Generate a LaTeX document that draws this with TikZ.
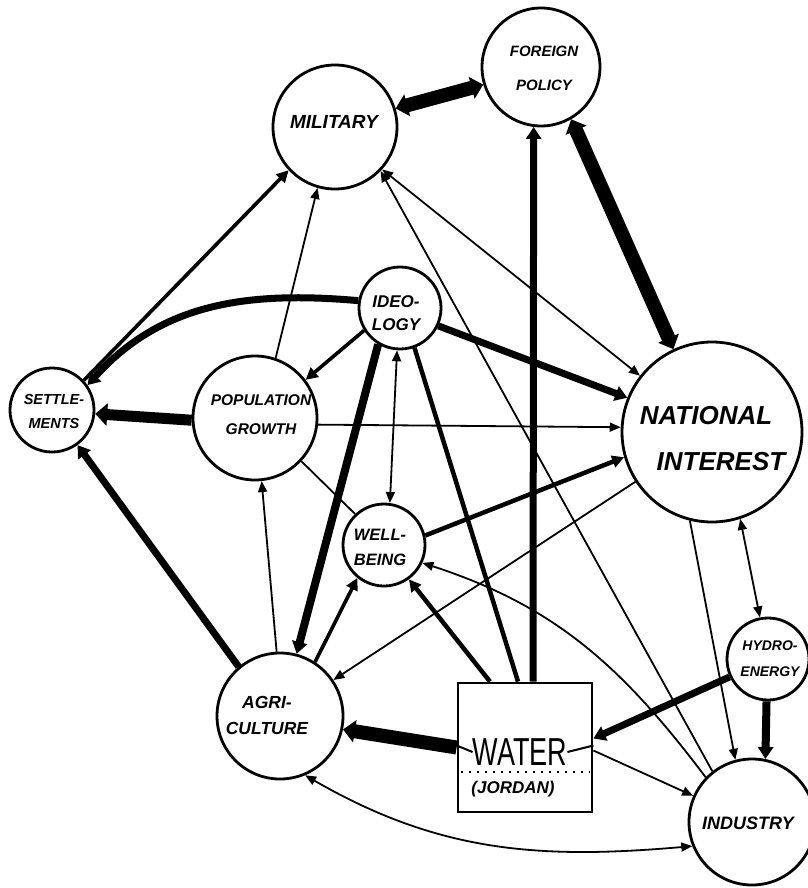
\documentclass[tikz,border=0pt]{standalone}
\usepackage{fontspec}
\setmainfont{Liberation Sans}
\usetikzlibrary{arrows.meta}
\pgfdeclarelayer{background}
\pgfsetlayers{background,main}
\newcommand\hw[2]{\bfseries\itshape\fontsize{#1}{#2}\selectfont}
\begin{document}
\begin{tikzpicture}[x=1pt,y=-1pt,
  circ/.style={circle, draw, line width=2.8pt, fill=white, inner sep=0pt},
  wbox/.style={rectangle, draw, line width=2.8pt, fill=white, inner sep=0pt},
  lbl/.style={align=center, inner sep=0pt},
  eA/.style={line width=1.8pt, >={Triangle[length=11pt,width=9pt]}},
  eB/.style={line width=3.6pt, >={Triangle[length=12pt,width=12pt]}},
  eC/.style={line width=7pt, >={Triangle[length=12pt,width=15pt]}},
  eD/.style={line width=14pt, >={Triangle[length=12pt,width=22pt]}}]
\useasboundingbox (0,0) rectangle (807,888);
\begin{pgfonlayer}{background}
\fill[white] (0,0) rectangle (807,888);
\end{pgfonlayer}

% nodes
\node[circ, minimum size=124pt] (mil) at (335,127) {};
\node[circ, minimum size=118pt] (fp) at (541,67) {};
\node[circ, minimum size=82pt] (ideo) at (400,308) {};
\node[circ, minimum size=84pt] (sett) at (52,410) {};
\node[circ, minimum size=124pt] (pop) at (255,418) {};
\node[circ, minimum size=180pt] (ni) at (712,432) {};
\node[circ, minimum size=82pt] (well) at (384,545) {};
\node[circ, minimum size=126pt] (agri) at (280,716) {};
\node[wbox, minimum width=134pt, minimum height=129pt] (water) at (525,747.5) {};
\node[circ, minimum size=82pt] (hydro) at (768,659) {};
\node[circ, minimum size=126pt] (ind) at (752,822) {};

% labels
\node[lbl, font=\hw{19}{20}] (milt) at (334,122) {MILITARY};
\node[lbl, font=\hw{15}{34}] (fpt) at (544,68) {FOREIGN\\POLICY};
\node[lbl, font=\hw{17}{23}] (ideot) at (396,313) {IDEO-\\LOGY};
\node[lbl, font=\hw{14.5}{24}] (settt) at (54,412) {SETTLE-\\MENTS};
\node[lbl, font=\hw{15.5}{29}] (popt) at (261,415) {POPULATION\\GROWTH};
\node[lbl, font=\hw{26}{28}] (nia) at (706,416) {NATIONAL};
\node[lbl, font=\hw{26}{28}] (nib) at (721,462) {INTEREST};
\node[lbl, font=\hw{16.5}{25}] (wellt) at (380,547) {WELL-\\BEING};
\node[lbl, font=\hw{17.5}{26}] (agrit) at (267,715) {AGRI-\\CULTURE};
\node[lbl, font=\fontsize{30}{30}\selectfont] (watert) at (520,752) {\scalebox{0.9}[1.3]{WATER}};
\node[lbl, font=\hw{17}{18}] (jordt) at (513,789) {(JORDAN)};
\node[lbl, font=\hw{14}{26}] (hydrot) at (770,659) {HYDRO-\\ENERGY};
\node[lbl, font=\hw{18}{20}] (indt) at (748,823) {INDUSTRY};

% inside the water box
\draw[line width=2pt, dash pattern=on 2pt off 6pt]
  ([xshift=4pt,yshift=-24.5pt]water.west) -- ([xshift=-4pt,yshift=-24.5pt]water.east);
\draw[line width=2pt] ([yshift=2pt]water.west) -- (watert.west);
\draw[line width=2pt] ([yshift=2pt]water.east) -- (watert.east);

% connectors
\begin{pgfonlayer}{background}
\draw[eD,<->] (mil.17) -- (fp.197);
\draw[eD,<->] (fp.-60) -- (ni.115);
\draw[eC,->] ([xshift=8pt]water.north) -- (fp.-97);
\draw[eB,->] (sett.43) -- (mil.223);
\draw[eA,->] (pop.71) -- (mil.-106);
\draw[eA,<->] (mil.-42) -- (ni.142);
\draw[eA,->] (ind.128) -- (mil.-44);
\draw[eC,->] (ideo.170) to[out=175,in=48] (sett.35);
\draw[eC,->] (ideo.-25) -- (ni.158);
\draw[eB,->] (ideo.212) -- (pop.37);
\draw[eC,->,line width=8pt] (ideo.-121) -- (agri.75);
\draw[eA,<->] (ideo.-94) -- (well.82);
\draw[eB,line width=4.5pt] (ideo.-70) -- ([xshift=-7pt]water.north);
\draw[eB,->,line width=4.5pt] ([xshift=-35pt]water.north) -- (well.-54);
\draw[eD,->] (water.west) -- (agri.-12);
\draw[eA,->] ([yshift=-3pt]water.east) -- (ind.156);
\draw[eA,<->] (agri.-67) to[out=-30,in=185] (ind.202);
\draw[eC,->,line width=8pt] (hydro.-92) -- (ind.78);
\draw[eA,<->] (ni.-72) -- (hydro.101);
\draw[eA,->] (ni.-104) -- (ind.105);
\draw[eC,->] (hydro.205) -- ([yshift=9pt]water.east);
\draw[eD,->,line width=11pt] (pop.182) -- (sett.-5);
\draw[eC,->] (agri.130) -- (sett.-54);
\draw[eA,->] (agri.93) -- (pop.-84);
\draw[eB,->] (agri.57) -- (well.-129);
\draw[eA,->] (ni.213) -- (agri.34);
\draw[eB,->,line width=4.5pt] (well.13) -- (ni.196);
\draw[eA,->] (pop.-6) -- (ni.177);
\draw[eA] (pop.-43) -- (well.133);
\draw[eA,->] (ind.136) to[out=127,in=-18] (well.-25);
\end{pgfonlayer}
\end{tikzpicture}
\end{document}
